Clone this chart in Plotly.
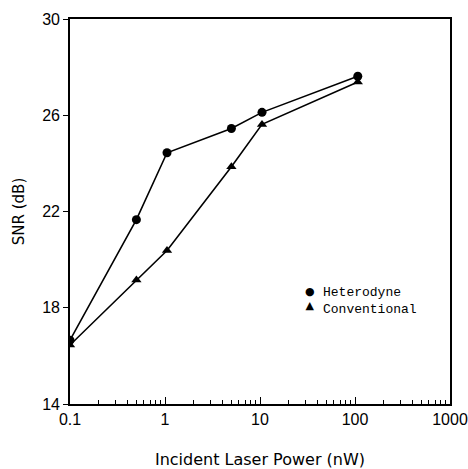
import plotly.graph_objects as go

power_nw = [0.1, 0.5, 1.05, 5.0, 10.5, 107]
snr_heterodyne = [16.65, 21.66, 24.44, 25.45, 26.12, 27.62]
snr_conventional = [16.45, 19.15, 20.38, 23.86, 25.62, 27.38]

x_ticks = [0.1, 1, 10, 100, 1000]
x_ticklabels = ["0.1", "1", "10", "100", "1000"]
y_ticks = [14, 18, 22, 26, 30]
series_names = ["Heterodyne", "Conventional"]
series_symbols = ["●", "▲"]

fig = go.Figure()
fig.add_trace(go.Scatter(x=power_nw, y=snr_heterodyne, mode="lines+markers",
                         name=series_names[0],
                         line=dict(color="black", width=1.6),
                         marker=dict(symbol="circle", size=9, color="black"),
                         showlegend=False))
fig.add_trace(go.Scatter(x=power_nw, y=snr_conventional, mode="lines+markers",
                         name=series_names[1],
                         line=dict(color="black", width=1.6),
                         marker=dict(symbol="triangle-up", size=9, color="black"),
                         showlegend=False))

# legend drawn as text
fig.add_annotation(x=0.663, y=0.268, xref="paper", yref="paper",
                   text="<br>".join(series_names), align="left",
                   showarrow=False, xanchor="left", yanchor="middle", borderpad=0,
                   font=dict(family="Liberation Mono", size=13, color="black"))
fig.add_annotation(x=0.632, y=0.273, xref="paper", yref="paper",
                   text="<br>".join(series_symbols), align="center",
                   showarrow=False, xanchor="center", yanchor="middle", borderpad=0,
                   font=dict(family="DejaVu Sans", size=11, color="black"))

fig.update_layout(
    width=468, height=469,
    margin=dict(l=70, r=18, t=19, b=65),
    paper_bgcolor="white", plot_bgcolor="white",
    font=dict(family="Liberation Sans", color="black"),
    showlegend=False,
    xaxis=dict(type="log", range=[-1, 3], tickvals=x_ticks, ticktext=x_ticklabels,
               ticks="inside", ticklen=7, tickwidth=1.2, tickcolor="black",
               minor=dict(ticks="inside", ticklen=4, tickcolor="black", dtick="D1", showgrid=False),
               showline=True, linecolor="black", linewidth=1.6, mirror=True,
               showgrid=False, zeroline=False, tickfont=dict(size=16), automargin=False,
               title=dict(text="Incident Laser Power (nW)",
                          font=dict(family="DejaVu Sans", size=16), standoff=30)),
    yaxis=dict(range=[14, 30], tickvals=y_ticks,
               ticks="outside", ticklen=5, tickwidth=1.2, tickcolor="black",
               showline=True, linecolor="black", linewidth=1.6, mirror=True,
               showgrid=False, zeroline=False, tickfont=dict(size=16), automargin=False,
               title=dict(text="SNR (dB)", font=dict(family="DejaVu Sans", size=15), standoff=14)),
)

fig.write_html("out.html", config={"displayModeBar": False},
               post_script="document.body.style.margin='0px';")
